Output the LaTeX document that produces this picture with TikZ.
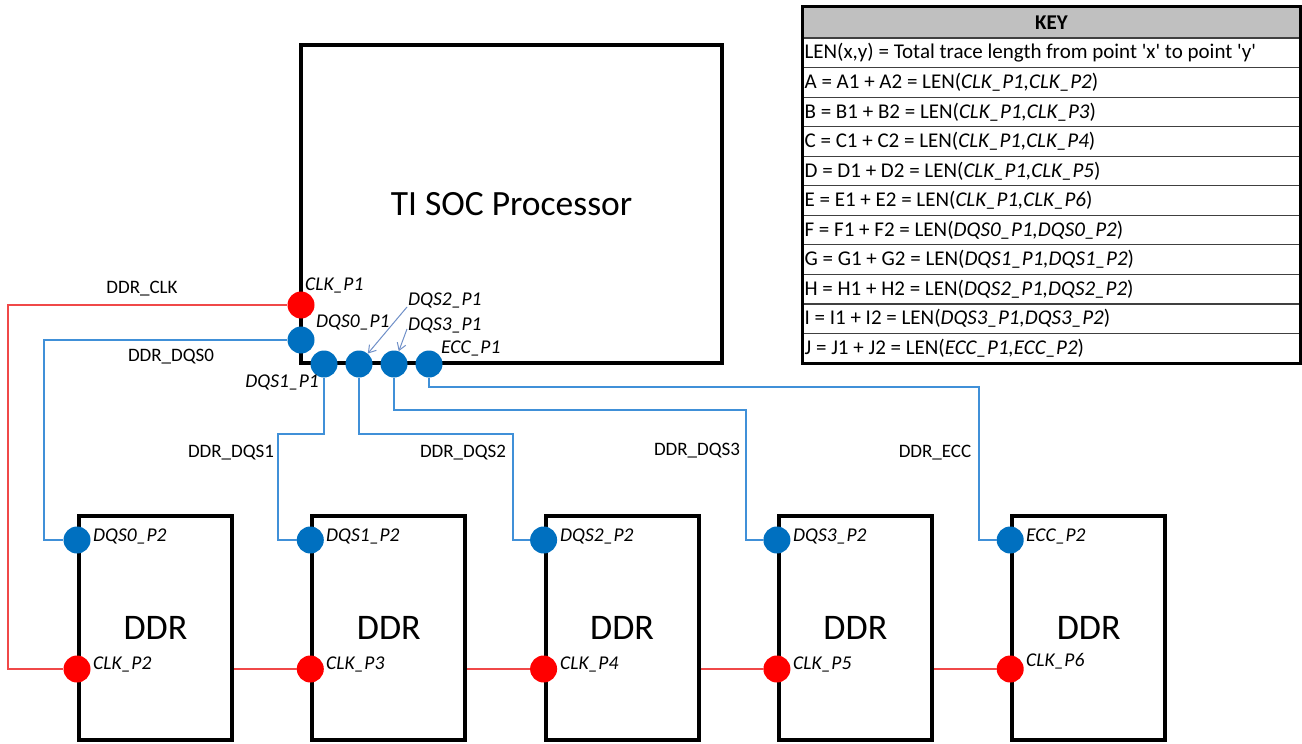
\documentclass[tikz,border=0pt]{standalone}
\usepackage{fontspec}
\setmainfont{Carlito}
\usetikzlibrary{arrows.meta,calc}
\definecolor{wred}{HTML}{F04848}
\definecolor{wblue}{HTML}{4090D8}
\definecolor{pblue}{HTML}{0070C0}
\definecolor{pred}{HTML}{FF0000}
\definecolor{arrc}{HTML}{7090C8}
\definecolor{keyhead}{HTML}{C0C0C0}
\definecolor{keyline}{HTML}{404040}
\begin{document}
\begin{tikzpicture}[x=1pt,y=-1pt,
  chip/.style={draw=black, line width=4pt, fill=white, inner sep=0pt},
  pinb/.style={circle, fill=pblue, inner sep=0pt, minimum size=27pt},
  pinr/.style={circle, fill=pred, inner sep=0pt, minimum size=27pt},
  rw/.style={draw=wred, line width=1.3pt},
  bw/.style={draw=wblue, line width=1.3pt},
  netlab/.style={font=\fontsize{19}{22}\selectfont, inner sep=0pt},
  pinlab/.style={font=\fontsize{19.5}{22}\selectfont\itshape, inner sep=0pt},
  keytext/.style={font=\fontsize{21}{24}\selectfont, inner sep=0pt, anchor=west},
  keycell/.style={draw=keyline, line width=1.2pt, minimum width=497pt, minimum height=29.55pt, inner sep=0pt},
  pointer/.style={draw=arrc, line width=1pt, -{Straight Barb[length=7pt,width=9pt]}}
]
\useasboundingbox (0,0) rectangle (1302,744);

% SOC
\node[chip, minimum width=421pt, minimum height=318pt, font=\fontsize{35.5}{40}\selectfont] (soc) at (511.5,204) {TI SOC Processor};

% DDR boxes
\foreach \i in {1,...,5}{
  \node[chip, minimum width=153pt, minimum height=224pt, font=\fontsize{36}{42}\selectfont] (ddr\i) at ({155.5+233.3*(\i-1)},628) {DDR};
}

% top pins
\node[pinr] (clk1) at (301,305) {};
\node[pinb] (dqs0a) at (301,340) {};
\node[pinb] (dqs1a) at (324,364) {};
\node[pinb] (dqs2a) at (359,364) {};
\node[pinb] (dqs3a) at (394,364) {};
\node[pinb] (ecca) at (429,364) {};

% bottom pins
\foreach \i/\n in {1/dqs0b,2/dqs1b,3/dqs2b,4/dqs3b,5/eccb}{
  \node[pinb] (\n) at (ddr\i.west |- 0,540) {};
}
\foreach \i/\k in {1/2,2/3,3/4,4/5,5/6}{
  \node[pinr] (clk\k) at (ddr\i.west |- 0,669) {};
}

% bend coordinates
\coordinate (wclk) at (8,500);
\coordinate (w0) at (44,450);
\coordinate (w1) at (278,434);
\coordinate (w2) at (513,434);
\coordinate (w3) at (746,410);
\coordinate (w4) at (979,387);

% wires
\draw[rw] (clk1) -| (wclk) |- (clk2);
\draw[rw] (ddr1.east |- clk2) -- (clk3);
\draw[rw] (ddr2.east |- clk3) -- (clk4);
\draw[rw] (ddr3.east |- clk4) -- (clk5);
\draw[rw] (ddr4.east |- clk5) -- (clk6);
\draw[bw] (dqs0a) -| (w0) |- (dqs0b);
\draw[bw] (dqs1a) |- (w1) |- (dqs1b);
\draw[bw] (dqs2a) |- (w2) |- (dqs2b);
\draw[bw] (dqs3a) |- (w3) |- (dqs3b);
\draw[bw] (ecca) |- (w4) |- (eccb);

% net labels
\node[netlab] (lclk) at (142,289) {DDR\_CLK};
\node[netlab] (ldqs0) at (171,357) {DDR\_DQS0};
\node[netlab] (ldqs1) at (231,453) {DDR\_DQS1};
\node[netlab] (ldqs2) at (463,453) {DDR\_DQS2};
\node[netlab] (ldqs3) at (697,451) {DDR\_DQS3};
\node[netlab] (lecc) at (935,453) {DDR\_ECC};

% top pin labels
\node[pinlab, anchor=west] (tclk1) at (305,285) {CLK\_P1};
\node[pinlab, anchor=west] (tdqs0) at (316,322) {DQS0\_P1};
\node[pinlab, anchor=west] (tdqs2) at (408,300) {DQS2\_P1};
\node[pinlab, anchor=west] (tdqs3) at (408,325) {DQS3\_P1};
\node[pinlab, anchor=west] (tecc) at (441,348) {ECC\_P1};
\node[pinlab, anchor=east] (tdqs1) at (319,382) {DQS1\_P1};

% pointers
\coordinate (p2) at (407,307);
\coordinate (p3) at (407,329);
\draw[pointer] (p2) -- (dqs2a);
\draw[pointer] (p3) -- (dqs3a);

% bottom pin labels
\node[pinlab, anchor=west] (bdqs0) at (93,536) {DQS0\_P2};
\node[pinlab, anchor=west] (bdqs1) at (326,536) {DQS1\_P2};
\node[pinlab, anchor=west] (bdqs2) at (560,536) {DQS2\_P2};
\node[pinlab, anchor=west] (bdqs3) at (793,536) {DQS3\_P2};
\node[pinlab, anchor=west] (becc) at (1026,536) {ECC\_P2};
\node[pinlab, anchor=west] (bclk2) at (93,664) {CLK\_P2};
\node[pinlab, anchor=west] (bclk3) at (326,664) {CLK\_P3};
\node[pinlab, anchor=west] (bclk4) at (560,664) {CLK\_P4};
\node[pinlab, anchor=west] (bclk5) at (793,664) {CLK\_P5};
\node[pinlab, anchor=west] (bclk6) at (1026,661) {CLK\_P6};

% key table
\node[keycell, fill=keyhead, minimum height=31pt, font=\fontsize{21}{24}\selectfont\bfseries] (khead) at (1051.5,22.5) {KEY};
\foreach \r/\t in {
 1/{LEN(x,y) = Total trace length from point \textquotesingle x\textquotesingle{} to point \textquotesingle y\textquotesingle},
 2/{A = A1 + A2 = LEN(\textit{CLK\_P1,CLK\_P2})},
 3/{B = B1 + B2 = LEN(\textit{CLK\_P1,CLK\_P3})},
 4/{C = C1 + C2 = LEN(\textit{CLK\_P1,CLK\_P4})},
 5/{D = D1 + D2 = LEN(\textit{CLK\_P1,CLK\_P5})},
 6/{E = E1 + E2 = LEN(\textit{CLK\_P1,CLK\_P6})},
 7/{F = F1 + F2 = LEN(\textit{DQS0\_P1,DQS0\_P2})},
 8/{G = G1 + G2 = LEN(\textit{DQS1\_P1,DQS1\_P2})},
 9/{H = H1 + H2 = LEN(\textit{DQS2\_P1,DQS2\_P2})},
 10/{I = I1 + I2 = LEN(\textit{DQS3\_P1,DQS3\_P2})},
 11/{J = J1 + J2 = LEN(\textit{ECC\_P1,ECC\_P2})}}{
  \node[keycell] (krow\r) at (1051.5,{38+29.55*(\r-0.5)}) {};
  \node[keytext] (ktxt\r) at ($(krow\r.west)+(2,0)$) {\t};
}
\draw[black, line width=2.5pt] (khead.north west) rectangle (krow11.south east);
\end{tikzpicture}
\end{document}
